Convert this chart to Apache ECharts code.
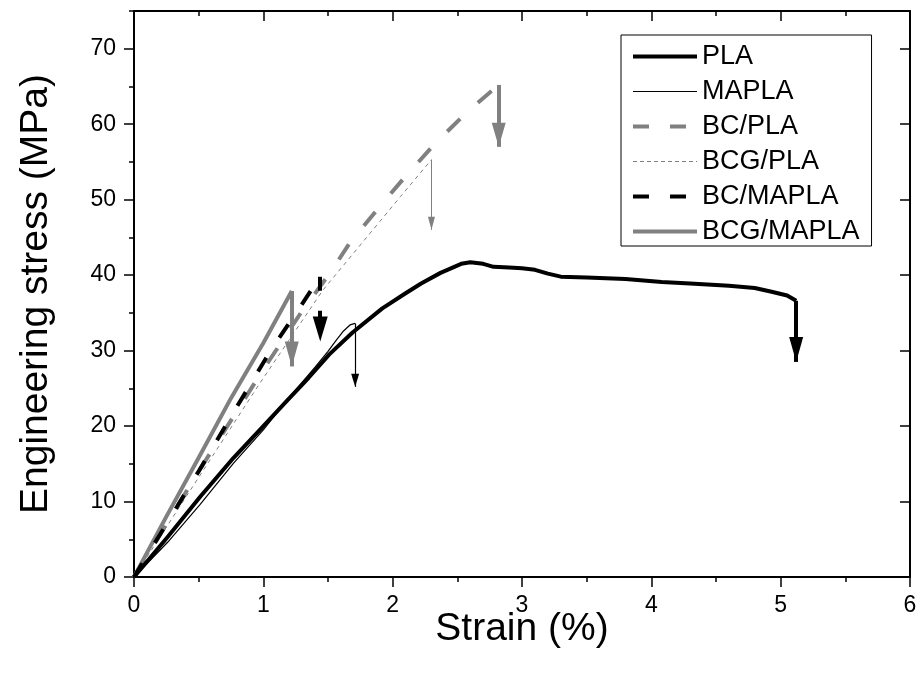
<!DOCTYPE html>
<html><head><meta charset="utf-8">
<script src="https://cdn.jsdelivr.net/npm/echarts@6/dist/echarts.min.js"></script>
<style>html,body{margin:0;padding:0;background:#fff}#c{width:920px;height:684px}</style>
</head><body><div id="c"></div>
<script>
// ---------------- data ----------------
const seriesNames = ['PLA', 'MAPLA', 'BC/PLA', 'BCG/PLA', 'BC/MAPLA', 'BCG/MAPLA'];

const strainPLA = [0, 0.26, 0.51, 0.77, 1.0, 1.18, 1.35, 1.51, 1.69, 1.92, 2.1, 2.22, 2.37, 2.53, 2.6, 2.7, 2.78, 2.9, 3.0, 3.1, 3.2, 3.3, 3.5, 3.8, 4.08, 4.3, 4.6, 4.8, 4.93, 5.05, 5.12];
const stressPLA = [0, 5.3, 10.6, 15.8, 20.0, 23.3, 26.4, 29.5, 32.4, 35.6, 37.6, 38.9, 40.3, 41.5, 41.7, 41.5, 41.1, 41.0, 40.9, 40.7, 40.2, 39.8, 39.7, 39.5, 39.1, 38.9, 38.6, 38.3, 37.8, 37.3, 36.6];

const strainMAPLA = [0, 0.26, 0.51, 0.77, 1.0, 1.2, 1.4, 1.5, 1.56, 1.62, 1.67, 1.71];
const stressMAPLA = [0, 4.6, 9.6, 15.1, 19.5, 23.8, 27.8, 29.9, 31.3, 32.6, 33.4, 33.6];

const strainBCPLA = [0, 0.5, 1.0, 1.29, 1.52, 1.67, 1.91, 2.09, 2.32, 2.58, 2.82];
const stressBCPLA = [0, 14.0, 27.5, 35.0, 40.4, 44.3, 49.3, 52.9, 57.3, 61.7, 65.2];

const strainBCGPLA = [0, 0.5, 0.97, 1.46, 1.9, 2.06, 2.3];
const stressBCGPLA = [0, 13.2, 25.6, 38.0, 47.1, 50.4, 55.3];

const strainBCMAPLA = [0, 0.25, 0.5, 0.72, 1.06, 1.25, 1.44];
const stressBCMAPLA = [0, 7.0, 14.0, 20.4, 30.1, 34.9, 39.8];

const strainBCGMAPLA = [0, 0.25, 0.5, 0.75, 1.0, 1.22];
const stressBCGMAPLA = [0, 8.0, 15.8, 23.7, 31.0, 37.9];

// fracture arrows: strain at break, stress at break, arrow tip stress
const breakStrain = [5.12, 1.71, 2.82, 2.30, 1.44, 1.22];
const breakStress = [36.6, 33.6, 65.2, 55.3, 39.8, 37.9];
const arrowTipStress = [28.5, 25.2, 57.0, 46.0, 31.2, 27.9];

const xMin = 0, xMax = 6, xStep = 1;
const yMin = 0, yMax = 75;
const yMajorTicks = [0, 10, 20, 30, 40, 50, 60, 70];
const yMinorTicks = [5, 15, 25, 35, 45, 55, 65, 75];

const allStrain = [strainPLA, strainMAPLA, strainBCPLA, strainBCGPLA, strainBCMAPLA, strainBCGMAPLA];
const allStress = [stressPLA, stressMAPLA, stressBCPLA, stressBCGPLA, stressBCMAPLA, stressBCGMAPLA];

// ---------------- styles ----------------
const FONT = "'Liberation Sans', Arial, Helvetica, sans-serif";
const GRAY = '#808080';
const styles = [
  { color: '#000', width: 4, type: 'solid', legendType: 'solid', arrowType: 'solid', head: [14, 25], z: 6 },
  { color: '#000', width: 1.2, type: 'solid', legendType: 'solid', arrowType: 'solid', head: [8, 13], z: 5 },
  { color: GRAY, width: 4, type: [18, 24], legendType: [16, 21], arrowType: 'solid', head: [14, 24], z: 3 },
  { color: GRAY, width: 1, type: [4, 4], legendType: [4, 3], arrowType: 'solid', head: [7, 13], z: 2 },
  { color: '#000', width: 4, type: [16, 24], legendType: [16, 21], arrowType: [14, 20], head: [15, 25], z: 4 },
  { color: GRAY, width: 4, type: 'solid', legendType: 'solid', arrowType: 'solid', head: [14, 25], z: 3 }
];

const series = seriesNames.map((name, i) => {
  const st = styles[i];
  return {
    type: 'line',
    name: name,
    data: allStrain[i].map((x, k) => [x, allStress[i][k]]),
    symbol: 'none',
    showSymbol: false,
    z: st.z,
    lineStyle: { color: st.color, width: st.width, type: st.type, join: 'round', cap: 'butt' },
    itemStyle: { color: st.color },
    emphasis: { disabled: true },
    markLine: {
      silent: true,
      symbol: ['none', 'triangle'],
      symbolSize: st.head,
      symbolOffset: [[0, 0], [0, st.head[1] / 2]],
      label: { show: false },
      emphasis: { disabled: true },
      lineStyle: { color: st.color, width: st.width, type: st.arrowType },
      data: [[
        { coord: [breakStrain[i], breakStress[i]] },
        { coord: [breakStrain[i], arrowTipStress[i]] }
      ]]
    }
  };
});

const axisLineStyle = { color: '#000', width: 2 };
const tickStyle = { color: '#000', width: 1.5 };

const option = {
  animation: false,
  backgroundColor: '#fff',
  grid: { left: 134, right: 10, top: 11, bottom: 107, containLabel: false },
  legend: {
    left: 621, top: 35, orient: 'vertical',
    padding: [8, 12, 1, 10], itemGap: 8, itemWidth: 64, itemHeight: 20,
    borderColor: '#000', borderWidth: 1, backgroundColor: '#fff',
    textStyle: { fontSize: 27, fontFamily: FONT, color: '#000', lineHeight: 26 },
    data: seriesNames.map((n, i) => ({
      name: n,
      itemStyle: { opacity: 0 },
      lineStyle: { color: styles[i].color, width: styles[i].width, type: styles[i].legendType }
    })),
    selectedMode: false
  },
  xAxis: [
    {
      type: 'value', position: 'bottom', min: xMin, max: xMax, interval: xStep,
      name: 'Strain (%)', nameLocation: 'middle', nameGap: 33, nameMoveOverlap: false,
      nameTextStyle: { fontSize: 39, fontFamily: FONT, color: '#000' },
      axisLine: { show: true, onZero: false, lineStyle: axisLineStyle },
      axisTick: { show: true, inside: false, length: 10, lineStyle: tickStyle },
      minorTick: { show: true, splitNumber: 2, length: 5, lineStyle: tickStyle },
      axisLabel: { fontSize: 23, fontFamily: FONT, color: '#000', margin: 17 },
      splitLine: { show: false }
    },
    {
      type: 'value', position: 'top', min: xMin, max: xMax, interval: xStep,
      axisLine: { show: true, onZero: false, lineStyle: axisLineStyle },
      axisTick: { show: true, inside: true, length: 10, lineStyle: tickStyle },
      minorTick: { show: true, splitNumber: 2, length: 5, lineStyle: tickStyle },
      axisLabel: { show: false },
      splitLine: { show: false }
    }
  ],
  yAxis: [
    {
      type: 'value', position: 'left', min: yMin, max: yMax,
      name: 'Engineering stress (MPa)', nameLocation: 'middle', nameGap: 78, nameMoveOverlap: false,
      nameTextStyle: { fontSize: 39, fontFamily: FONT, color: '#000' },
      axisLine: { show: true, onZero: false, lineStyle: axisLineStyle },
      axisTick: { show: true, inside: false, length: 10, lineStyle: tickStyle, customValues: yMajorTicks },
      axisLabel: { fontSize: 23, fontFamily: FONT, color: '#000', margin: 18, customValues: yMajorTicks },
      splitLine: { show: false }
    },
    {
      type: 'value', position: 'left', min: yMin, max: yMax,
      axisLine: { show: false },
      axisTick: { show: true, inside: false, length: 5, lineStyle: tickStyle, customValues: yMinorTicks },
      axisLabel: { show: false },
      splitLine: { show: false }
    },
    {
      type: 'value', position: 'right', min: yMin, max: yMax,
      axisLine: { show: true, onZero: false, lineStyle: axisLineStyle },
      axisTick: { show: true, inside: true, length: 10, lineStyle: tickStyle, customValues: yMajorTicks },
      axisLabel: { show: false },
      splitLine: { show: false }
    },
    {
      type: 'value', position: 'right', min: yMin, max: yMax,
      axisLine: { show: false },
      axisTick: { show: true, inside: true, length: 5, lineStyle: tickStyle, customValues: yMinorTicks },
      axisLabel: { show: false },
      splitLine: { show: false }
    }
  ],
  series: series
};

const chart = echarts.init(document.getElementById('c'), null, { renderer: 'canvas' });
chart.setOption(option);
</script>
</body></html>
